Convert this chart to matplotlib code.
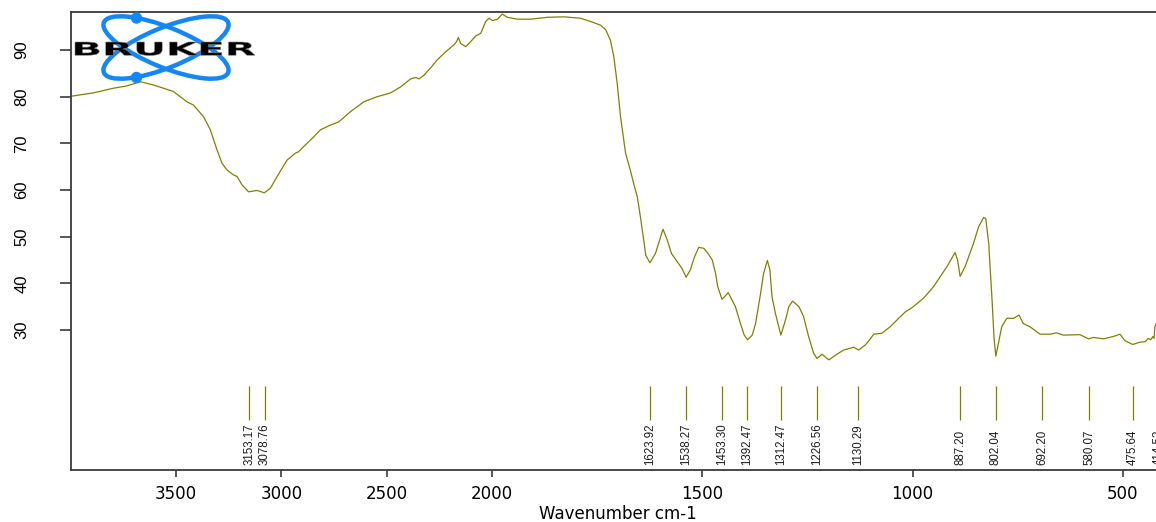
import numpy as np
import matplotlib.pyplot as plt
from matplotlib import font_manager
from matplotlib.patches import Ellipse, Circle, PathPatch
from matplotlib.textpath import TextPath
from matplotlib.font_manager import FontProperties
from matplotlib.transforms import Affine2D

# espectro (numero de onda cm-1, transmitancia %)
wn = [3997, 3894, 3799, 3735, 3671, 3608, 3513, 3449, 3418, 3370, 3338, 3306, 3282, 3259,
      3227, 3211, 3187, 3156, 3116, 3081, 3052, 3020, 2973, 2933, 2918, 2894, 2846, 2814,
      2767, 2727, 2671, 2608, 2544, 2481, 2433, 2386, 2362, 2346, 2322, 2290, 2259, 2219,
      2180, 2167, 2159, 2148, 2124, 2100, 2076, 2052, 2029, 2013, 1998, 1986, 1975, 1963,
      1939, 1907, 1868, 1828, 1789, 1765, 1741, 1729, 1718, 1710, 1702, 1694, 1682, 1670,
      1662, 1654, 1646, 1640, 1634, 1624, 1611, 1593, 1583, 1573, 1559, 1548, 1538, 1528,
      1518, 1508, 1496, 1486, 1476, 1468, 1463, 1453, 1447, 1438, 1429, 1421, 1409, 1400,
      1392, 1381, 1373, 1361, 1354, 1345, 1339, 1334, 1326, 1313, 1302, 1294, 1285, 1270,
      1259, 1247, 1235, 1227, 1215, 1199, 1183, 1164, 1140, 1128, 1112, 1092, 1073, 1053,
      1033, 1017, 1001, 974, 950, 930, 918, 899, 893, 887, 875, 855, 843, 831, 826, 819,
      811, 806, 802, 796, 788, 776, 760, 747, 737, 721, 697, 673, 658, 642, 602, 582, 570,
      546, 523, 507, 495, 477, 459, 447, 440, 434, 429, 426, 424, 421, 415]
tr = [80.1, 80.8, 81.8, 82.3, 83.2, 82.5, 81.1, 78.9, 78.2, 75.7, 72.9, 68.6, 65.7, 64.3,
      63.2, 62.9, 61.1, 59.6, 59.9, 59.4, 60.4, 62.9, 66.4, 67.9, 68.2, 69.3, 71.4, 72.9,
      73.9, 74.6, 76.8, 78.9, 80.0, 80.8, 82.1, 83.8, 84.1, 83.8, 84.6, 86.2, 87.9, 89.6,
      91.1, 91.8, 92.7, 91.4, 90.7, 91.8, 93.0, 93.6, 96.1, 96.8, 96.3, 96.6, 97.7, 97.0,
      96.6, 96.6, 97.0, 97.1, 96.8, 96.1, 95.3, 94.3, 92.1, 88.6, 82.9, 75.7, 67.9, 64.0,
      61.1, 58.5, 53.8, 50.0, 46.0, 44.4, 46.4, 51.6, 49.3, 46.4, 44.6, 43.2, 41.3, 42.9,
      45.7, 47.7, 47.5, 46.4, 45.0, 42.1, 39.3, 36.6, 37.1, 38.0, 36.4, 35.0, 31.4, 28.9,
      27.9, 28.9, 31.4, 37.9, 42.1, 44.9, 42.9, 37.1, 33.6, 28.9, 32.1, 35.0, 36.2, 35.0,
      32.9, 28.6, 25.0, 23.9, 24.8, 23.6, 24.6, 25.7, 26.3, 25.7, 26.8, 29.1, 29.3, 30.7,
      32.5, 33.9, 34.8, 36.8, 39.3, 42.0, 43.6, 46.6, 45.0, 41.5, 43.6, 48.6, 52.1, 54.1, 53.9, 48.6,
      36.4, 27.9, 24.4, 27.1, 30.7, 32.5, 32.5, 33.2, 31.4, 30.7, 29.1, 29.1, 29.4, 28.9, 29.0, 28.1, 28.4,
      28.1, 28.6, 29.1, 27.7, 26.9, 27.4, 27.5, 28.2, 27.9, 28.6, 28.2, 30.7, 31.4, 32.0]

picos = [3153.17, 3078.76, 1623.92, 1538.27, 1453.30, 1392.47, 1312.47, 1226.56,
         1130.29, 887.20, 802.04, 692.20, 580.07, 475.64, 414.52]
rotulos = ['3153.17', '3078.76', '1623.92', '1538.27', '1453.30', '1392.47', '1312.47',
           '1226.56', '1130.29', '887.20', '802.04', '692.20', '580.07', '475.64', '414.52']
xticks = [3500, 3000, 2500, 2000, 1500, 1000, 500]
yticks = [30, 40, 50, 60, 70, 80, 90]

cor = '#808000'
cinza = '#3a3a3a'

# escala OPUS: acima de 2000 cm-1 comprimida pela metade
def fwd(w):
    w = np.asarray(w, dtype=float)
    return np.where(w > 2000, 2000 + (w - 2000) / 2, w)

def inv(u):
    u = np.asarray(u, dtype=float)
    return np.where(u > 2000, 2000 + (u - 2000) * 2, u)

nomes = {f.name for f in font_manager.fontManager.ttflist}
if 'Liberation Sans Narrow' in nomes:
    fonte_pico, tam_pico = 'Liberation Sans Narrow', 9.5
else:
    fonte_pico, tam_pico = 'Liberation Sans', 8.3

fig = plt.figure(figsize=(11.56, 5.22), dpi=100)
ax = fig.add_axes([71 / 1156, 52 / 522, 1094 / 1156, 458.3 / 522])

ax.set_xscale('function', functions=(fwd, inv))
ax.plot(wn, tr, color=cor, lw=0.9)
ax.vlines(picos, 10.7, 18.0, color=cor, lw=0.9)
for p, r in zip(picos, rotulos):
    ax.text(p, 1.0, r, rotation=90, ha='center', va='bottom',
            family=fonte_pico, fontsize=tam_pico, color='#1a1a1a')

ax.set_xlim(4000, 400)
ax.set_ylim(0, 98.2)
ax.set_xticks(xticks)
ax.set_xticklabels([str(t) for t in xticks])
ax.set_yticks(yticks)
ax.xaxis.set_minor_locator(plt.NullLocator())

for s in ax.spines.values():
    s.set_color(cinza)
    s.set_linewidth(1.3)

ax.tick_params(axis='x', direction='out', length=5, width=1.2, color=cinza,
               labelsize=12, pad=6)
ax.tick_params(axis='y', direction='out', length=8, width=1.2, color=cinza, pad=22)
for lb in ax.get_yticklabels():
    lb.set_rotation(90)
    lb.set_va('center')
    lb.set_family('Liberation Sans')
    lb.set_fontsize(12)
ax.set_xlabel('Wavenumber cm-1', fontsize=12, labelpad=1.5)

# logotipo Bruker
logo = fig.add_axes([0, 0, 1, 1])
logo.set_xlim(0, 1156)
logo.set_ylim(522, 0)
logo.axis('off')
azul = '#1487f5'
logo.add_patch(Ellipse((166, 47.5), 134, 40, angle=22, fill=False, ec=azul, lw=3.2))
logo.add_patch(Ellipse((166, 47.5), 134, 40, angle=-22, fill=False, ec=azul, lw=3.2))
logo.add_patch(Circle((136.5, 18), 5, color=azul))
logo.add_patch(Circle((136.5, 77.5), 5, color=azul))
tp = TextPath((0, 0), 'BRUKER', size=20, prop=FontProperties(family='DejaVu Sans', weight='bold'))
bb = tp.get_extents()
tf = Affine2D().translate(-bb.x0, -bb.y0).scale(180 / bb.width, -13.5 / bb.height).translate(75, 55.5)
logo.add_patch(PathPatch(tp, transform=tf + logo.transData, fc='black', ec='#888888', lw=0.4))

fig.savefig('out.png', dpi=100)
